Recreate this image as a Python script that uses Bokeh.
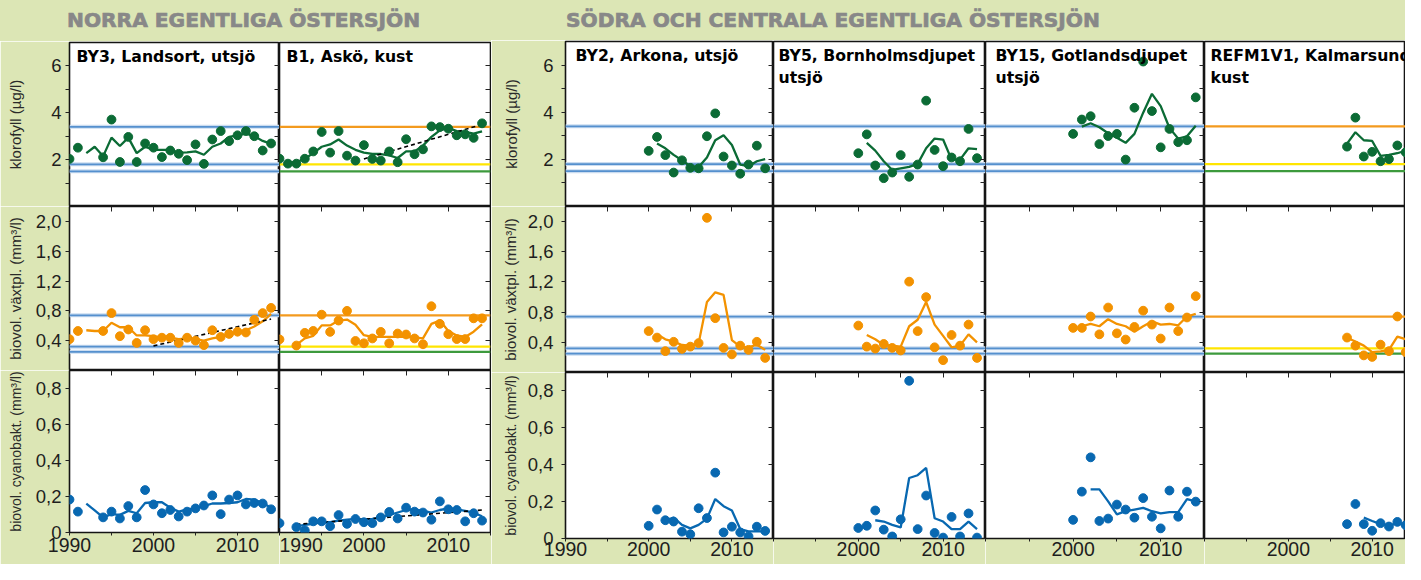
from bokeh.plotting import figure
from bokeh.models import Range1d, FixedTicker, LinearAxis, Div, Span, Label
from bokeh.layouts import row, column
from bokeh.embed import file_html
from bokeh.resources import INLINE

# ------------------------------------------------------------------ data
# --- BY3, Landsort (utsjö)
BY3_YEARS = [1990, 1991, 1994, 1995, 1996, 1997, 1998, 1999, 2000, 2001, 2002, 2003,
             2004, 2005, 2006, 2007, 2008, 2009, 2010, 2011, 2012, 2013, 2014]
BY3_CHL = [2.03, 2.51, 2.10, 3.71, 1.90, 2.97, 1.90, 2.69, 2.51, 2.11, 2.39, 2.25,
           1.98, 2.65, 1.82, 2.86, 3.22, 2.79, 3.04, 3.22, 3.00, 2.39, 2.69]
BY3_PHYTO = [0.42, 0.53, 0.53, 0.77, 0.46, 0.55, 0.37, 0.54, 0.42, 0.44, 0.44, 0.37,
             0.44, 0.40, 0.34, 0.54, 0.45, 0.49, 0.52, 0.51, 0.68, 0.77, 0.84]
BY3_CYANO = [0.183, 0.116, 0.084, 0.116, 0.078, 0.147, 0.084, 0.236, 0.156, 0.107, 0.125, 0.089,
             0.116, 0.134, 0.150, 0.206, 0.102, 0.183, 0.206, 0.156, 0.164, 0.161, 0.129]
BY3_AVG_YEARS = [1992, 1993, 1994, 1995, 1996, 1997, 1998, 1999, 2000, 2001, 2002, 2003,
                 2004, 2005, 2006, 2007, 2008, 2009, 2010, 2011, 2012, 2013, 2014]
BY3_CHL_AVG = [2.28, 2.55, 2.14, 2.94, 2.58, 2.94, 2.28, 2.55, 2.42, 2.42, 2.42, 2.30,
               2.31, 2.35, 2.21, 2.55, 2.69, 2.97, 3.04, 3.11, 3.00, 2.80, 2.67]
BY3_PHYTO_AVG = [0.54, 0.53, 0.53, 0.64, 0.58, 0.58, 0.47, 0.47, 0.46, 0.44, 0.44, 0.42,
                 0.43, 0.42, 0.40, 0.43, 0.45, 0.49, 0.52, 0.54, 0.59, 0.66, 0.76]
BY3_CYANO_AVG = [0.161, 0.123, 0.084, 0.102, 0.098, 0.120, 0.107, 0.164, 0.168, 0.168, 0.138, 0.116,
                 0.129, 0.134, 0.147, 0.161, 0.161, 0.164, 0.168, 0.186, 0.183, 0.164, 0.138]
BY3_PHYTO_TREND_YEARS = [2000, 2014]
BY3_PHYTO_TREND = [0.33, 0.69]

# --- B1, Askö (kust)
B1_CHL_YEARS = [1990, 1991, 1992, 1993, 1994, 1995, 1996, 1997, 1998, 1999, 2000, 2001, 2002,
                2003, 2004, 2005, 2006, 2007, 2008, 2009, 2010, 2011, 2012, 2013, 2014]
B1_CHL = [2.04, 1.83, 1.83, 2.04, 2.35, 3.18, 2.30, 3.22, 2.17, 1.96, 2.62, 2.03, 1.96,
          2.35, 1.89, 2.87, 2.23, 2.44, 3.42, 3.39, 3.32, 3.04, 3.08, 2.93, 3.55]
B1_CHL_AVG_YEARS = [1991, 1992, 1993, 1994, 1995, 1996, 1997, 1998, 1999, 2000, 2001, 2002,
                    2003, 2004, 2005, 2006, 2007, 2008, 2009, 2010, 2011, 2012, 2013, 2014]
B1_CHL_AVG = [1.86, 1.90, 2.04, 2.28, 2.55, 2.65, 2.86, 2.60, 2.42, 2.30, 2.25, 2.24,
              2.18, 2.07, 2.35, 2.35, 2.60, 2.97, 3.25, 3.36, 3.22, 3.18, 3.11, 3.21]
B1_CHL_TREND_YEARS = [2000, 2014]
B1_CHL_TREND = [2.03, 3.50]
B1_YEARS = [1990, 1992, 1993, 1994, 1995, 1996, 1997, 1998, 1999, 2000, 2001, 2002,
            2003, 2004, 2005, 2006, 2007, 2008, 2009, 2010, 2011, 2012, 2013, 2014]
B1_PHYTO = [0.417, 0.335, 0.505, 0.531, 0.749, 0.518, 0.670, 0.800, 0.396, 0.365, 0.430, 0.518,
            0.365, 0.496, 0.483, 0.430, 0.352, 0.862, 0.626, 0.487, 0.422, 0.422, 0.700, 0.700]
B1_CYANO = [0.052, 0.030, 0.012, 0.062, 0.062, 0.035, 0.097, 0.048, 0.075, 0.057, 0.052, 0.084,
            0.114, 0.078, 0.138, 0.116, 0.111, 0.071, 0.173, 0.129, 0.125, 0.062, 0.107, 0.066]
B1_AVG_YEARS = [1992, 1993, 1994, 1995, 1996, 1997, 1998, 1999, 2000, 2001, 2002, 2003,
                2004, 2005, 2006, 2007, 2008, 2009, 2010, 2011, 2012, 2013, 2014]
B1_PHYTO_AVG = [0.343, 0.430, 0.465, 0.605, 0.605, 0.670, 0.683, 0.613, 0.474, 0.452, 0.452, 0.452,
                0.452, 0.452, 0.443, 0.430, 0.626, 0.670, 0.530, 0.470, 0.450, 0.520, 0.620]
B1_CYANO_AVG = [0.034, 0.043, 0.048, 0.057, 0.057, 0.066, 0.071, 0.075, 0.071, 0.075, 0.084, 0.097,
                0.111, 0.125, 0.129, 0.120, 0.111, 0.125, 0.134, 0.129, 0.120, 0.110, 0.090]
B1_CYANO_TREND_YEARS = [1992, 2014]
B1_CYANO_TREND = [0.045, 0.125]

# --- offshore stations in the south (BY2, BY5, BY15)
SOUTH_YEARS = [2000, 2001, 2002, 2003, 2004, 2005, 2006, 2007, 2008, 2009, 2010, 2011, 2012, 2013, 2014]
SOUTH_AVG_YEARS = [2001, 2002, 2003, 2004, 2005, 2006, 2007, 2008, 2009, 2010, 2011, 2012, 2013, 2014]
SOUTH_CYANO_AVG_YEARS = [2002, 2003, 2004, 2005, 2006, 2007, 2008, 2009, 2010, 2011, 2012, 2013, 2014]

BY2_CHL = [2.36, 2.95, 2.18, 1.44, 1.96, 1.64, 1.62, 2.98, 3.95, 2.12, 1.74, 1.39, 1.78, 2.58, 1.62]
BY2_CHL_AVG = [2.67, 2.47, 2.19, 1.96, 1.71, 1.68, 2.08, 2.81, 3.02, 2.61, 1.78, 1.71, 1.92, 2.01]
BY2_PHYTO = [0.549, 0.463, 0.283, 0.407, 0.313, 0.343, 0.390, 2.050, 0.720, 0.326, 0.240, 0.356, 0.300, 0.407, 0.193]
BY2_PHYTO_AVG = [0.506, 0.440, 0.410, 0.365, 0.356, 0.386, 0.934, 1.063, 1.028, 0.429, 0.343, 0.334, 0.369, 0.300]
BY2_CYANO = [0.069, 0.157, 0.099, 0.092, 0.037, 0.023, 0.164, 0.111, 0.357, 0.033, 0.064, 0.033, 0.012, 0.064, 0.041]
BY2_CYANO_AVG = [0.099, 0.113, 0.074, 0.055, 0.074, 0.108, 0.214, 0.175, 0.152, 0.051, 0.039, 0.039, 0.039]

BY5_CHL = [2.26, 3.06, 1.74, 1.20, 1.44, 2.18, 1.26, 1.78, 4.49, 2.40, 1.71, 2.08, 1.92, 3.29, 2.05]
BY5_CHL_AVG = [2.70, 2.37, 1.92, 1.55, 1.62, 1.68, 1.81, 2.47, 2.88, 2.84, 1.99, 1.99, 2.47, 2.43]
BY5_PHYTO = [0.622, 0.343, 0.317, 0.378, 0.326, 0.292, 1.204, 0.549, 0.999, 0.334, 0.163, 0.497, 0.356, 0.635, 0.193]
BY5_PHYTO_AVG = [0.497, 0.440, 0.365, 0.356, 0.343, 0.613, 0.699, 0.934, 0.635, 0.485, 0.334, 0.356, 0.506, 0.400]
BY5_CYANO = [0.057, 0.069, 0.152, 0.048, 0.011, 0.104, 0.855, 0.051, 0.233, 0.030, 0.005, 0.117, 0.011, 0.136, 0.005]
BY5_CYANO_AVG = [0.099, 0.092, 0.074, 0.060, 0.328, 0.343, 0.383, 0.110, 0.092, 0.051, 0.051, 0.092, 0.051]

BY15_CHL = [3.08, 3.69, 3.83, 2.65, 2.99, 3.08, 1.99, 4.19, 6.15, 4.05, 2.51, 3.29, 2.73, 2.81, 4.63]
BY15_CHL_AVG = [3.39, 3.53, 3.36, 3.11, 2.92, 2.70, 3.08, 3.98, 4.78, 4.26, 3.33, 2.88, 2.98, 3.43]
BY15_PHYTO = [0.591, 0.591, 0.742, 0.506, 0.861, 0.519, 0.437, 0.604, 0.819, 0.635, 0.450, 0.861, 0.549, 0.729, 1.012]
BY15_PHYTO_AVG = [0.613, 0.643, 0.613, 0.707, 0.643, 0.613, 0.540, 0.613, 0.677, 0.635, 0.643, 0.626, 0.742, 0.776]
BY15_CYANO = [0.101, 0.254, 0.440, 0.095, 0.108, 0.184, 0.157, 0.113, 0.219, 0.118, 0.055, 0.260, 0.118, 0.254, 0.200]
BY15_CYANO_AVG = [0.266, 0.266, 0.201, 0.131, 0.148, 0.157, 0.166, 0.148, 0.136, 0.143, 0.143, 0.214, 0.201]

# --- REFM1V1, Kalmarsund (kust)
REFM_YEARS = [2007, 2008, 2009, 2010, 2011, 2012, 2013, 2014]
REFM_CHL = [2.54, 3.77, 2.12, 2.32, 1.92, 2.01, 2.59, 2.30]
REFM_CHL_AVG = [2.67, 3.15, 2.81, 2.78, 2.15, 2.19, 2.26, 2.37]
REFM_PHYTO = [0.463, 0.356, 0.227, 0.206, 0.369, 0.283, 0.742, 0.270]
REFM_PHYTO_AVG = [0.460, 0.410, 0.356, 0.270, 0.279, 0.300, 0.476, 0.440]
REFM_CYANO = [0.078, 0.187, 0.078, 0.042, 0.083, 0.065, 0.090, 0.072]
REFM_CYANO_AVG_YEARS = [2009, 2010, 2011, 2012, 2013, 2014]
REFM_CYANO_AVG = [0.113, 0.095, 0.078, 0.072, 0.081, 0.072]

# class boundaries (reference / status lines)
CHL_BOUNDS = [3.4, 1.8, 1.5]
PHYTO_BOUNDS = [0.74, 0.32, 0.25]

STATION_TITLES = {
    "BY3": "BY3, Landsort, utsjö",
    "B1": "B1, Askö, kust",
    "BY2": "BY2, Arkona, utsjö",
    "BY5": "BY5, Bornholmsdjupet\nutsjö",
    "BY15": "BY15, Gotlandsdjupet\nutsjö",
    "REFM1V1": "REFM1V1, Kalmarsund\nkust",
}
GROUP_TITLES = ["NORRA EGENTLIGA ÖSTERSJÖN", "SÖDRA OCH CENTRALA EGENTLIGA ÖSTERSJÖN"]
ROW_LABELS = ["klorofyll (µg/l)", "biovol. växtpl. (mm³/l)", "biovol. cyanobakt. (mm³/l)"]

SERIES = {
    "BY3": [(BY3_YEARS, BY3_CHL, BY3_AVG_YEARS, BY3_CHL_AVG, None),
            (BY3_YEARS, BY3_PHYTO, BY3_AVG_YEARS, BY3_PHYTO_AVG, (BY3_PHYTO_TREND_YEARS, BY3_PHYTO_TREND)),
            (BY3_YEARS, BY3_CYANO, BY3_AVG_YEARS, BY3_CYANO_AVG, None)],
    "B1": [(B1_CHL_YEARS, B1_CHL, B1_CHL_AVG_YEARS, B1_CHL_AVG, (B1_CHL_TREND_YEARS, B1_CHL_TREND)),
           (B1_YEARS, B1_PHYTO, B1_AVG_YEARS, B1_PHYTO_AVG, None),
           (B1_YEARS, B1_CYANO, B1_AVG_YEARS, B1_CYANO_AVG, (B1_CYANO_TREND_YEARS, B1_CYANO_TREND))],
    "BY2": [(SOUTH_YEARS, BY2_CHL, SOUTH_AVG_YEARS, BY2_CHL_AVG, None),
            (SOUTH_YEARS, BY2_PHYTO, SOUTH_AVG_YEARS, BY2_PHYTO_AVG, None),
            (SOUTH_YEARS, BY2_CYANO, SOUTH_CYANO_AVG_YEARS, BY2_CYANO_AVG, None)],
    "BY5": [(SOUTH_YEARS, BY5_CHL, SOUTH_AVG_YEARS, BY5_CHL_AVG, None),
            (SOUTH_YEARS, BY5_PHYTO, SOUTH_AVG_YEARS, BY5_PHYTO_AVG, None),
            (SOUTH_YEARS, BY5_CYANO, SOUTH_CYANO_AVG_YEARS, BY5_CYANO_AVG, None)],
    "BY15": [(SOUTH_YEARS, BY15_CHL, SOUTH_AVG_YEARS, BY15_CHL_AVG, None),
             (SOUTH_YEARS, BY15_PHYTO, SOUTH_AVG_YEARS, BY15_PHYTO_AVG, None),
             (SOUTH_YEARS, BY15_CYANO, SOUTH_CYANO_AVG_YEARS, BY15_CYANO_AVG, None)],
    "REFM1V1": [(REFM_YEARS, REFM_CHL, REFM_YEARS, REFM_CHL_AVG, None),
                (REFM_YEARS, REFM_PHYTO, REFM_YEARS, REFM_PHYTO_AVG, None),
                (REFM_YEARS, REFM_CYANO, REFM_CYANO_AVG_YEARS, REFM_CYANO_AVG, None)],
}
COASTAL = {"B1", "REFM1V1"}

# ------------------------------------------------------------------ style
BG = "#dce6b5"
SERIES_COLORS = ["#0b6b35", "#f39200", "#0868b1"]
LINE_BLUE, HALO_BLUE = "#5590ce", "#cadcf0"
BOUND_COAST = ["#f39a1e", "#ffe500", "#3d9a3d"]
TICK_FONT = "Liberation Sans"
TITLE_FONT = "DejaVu Sans"

ROW_SPECS = [
    dict(ymax=7.0, ticks=[2, 4, 6], minor=[1, 3, 5], fmt="%g", bounds=CHL_BOUNDS, lab_size="15px"),
    dict(ymax=2.2, ticks=[0.4, 0.8, 1.2, 1.6, 2.0], minor=[], fmt="%.1f", bounds=PHYTO_BOUNDS, lab_size="15px"),
    dict(ymax=0.9, ticks=[0, 0.2, 0.4, 0.6, 0.8], minor=[], fmt="%g", bounds=None, lab_size="14px"),
]

# geometry (pixels) - the whole page is laid out at 1405 x 564
FRAME_W = {"BY3": 210, "B1": 211, "BY2": 208, "BY5": 212, "BY15": 219, "REFM1V1": 201}
FULL_W = 209.6  # width of a complete 1990-2015 panel (REFM is cut at the page edge)
BORDER_L = {"BY3": 69, "B1": 0, "BY2": 74, "BY5": 0, "BY15": 0, "REFM1V1": 0}
BORDER_R = {"BY3": 0, "B1": 1, "BY2": 0, "BY5": 0, "BY15": 0, "REFM1V1": 0}
ROW_H = {0: [164, 164, 162], 1: [165, 166, 166]}
BOTTOM_H = {0: 32, 1: 26}
TITLE_H = {0: 41, 1: 40}
TITLE_LEFT = {0: 67, 1: 75}
AXLAB_STANDOFF = {0: [24, 9, 9], 1: [20, 6, 6]}
TICK_STANDOFF = {0: 4, 1: 8}
TITLE_DX = {"BY3": 7, "B1": 7, "BY2": 10, "BY5": 5, "BY15": 10, "REFM1V1": 6}


def ylabels(spec):
    return {t: (spec["fmt"] % t).replace(".", ",") for t in spec["ticks"]}


def make_panel(st, r, g):
    spec = ROW_SPECS[r]
    fw = FRAME_W[st]
    fh = ROW_H[g][r]
    top = 1 if r == 0 else 0
    bottom = BOTTOM_H[g] if r == 2 else 0
    xmax = 2015 if st != "REFM1V1" else 1990 + 25 * fw / FULL_W
    p = figure(width=BORDER_L[st] + fw + BORDER_R[st], height=fh + top + bottom,
               x_range=Range1d(1990, xmax), y_range=Range1d(0, spec["ymax"]),
               x_axis_location=None, y_axis_location=None,
               min_border_left=BORDER_L[st], min_border_right=BORDER_R[st],
               min_border_top=top, min_border_bottom=bottom,
               background_fill_color="white", border_fill_color=BG,
               outline_line_color="#141414", outline_line_width=1.6,
               output_backend="svg", toolbar_location=None)
    p.grid.visible = False

    yt = FixedTicker(ticks=spec["ticks"], minor_ticks=spec["minor"])
    # left axis with labels (first column of each group)
    if st in ("BY3", "BY2"):
        ax = LinearAxis(ticker=yt, axis_label=ROW_LABELS[r],
                        major_label_overrides=ylabels(spec))
        ax.axis_line_color = None
        ax.major_tick_out = 4
        ax.major_tick_in = 0
        ax.minor_tick_out = 4
        ax.minor_tick_in = 0
        ax.major_tick_line_color = "#222222"
        ax.minor_tick_line_color = "#222222"
        ax.major_label_standoff = TICK_STANDOFF[g]
        ax.major_label_text_font = TICK_FONT
        ax.major_label_text_font_size = "18.5px"
        ax.major_label_text_color = "#1e1e1e"
        ax.axis_label_text_font = TICK_FONT
        ax.axis_label_text_font_style = "normal"
        ax.axis_label_text_font_size = spec["lab_size"]
        ax.axis_label_text_color = "#2a2a2a"
        ax.axis_label_standoff = AXLAB_STANDOFF[g][r]
        p.add_layout(ax, "left")
    # inward ticks on the right edge of each panel
    if st != "REFM1V1":
        rax = LinearAxis(ticker=FixedTicker(ticks=spec["ticks"], minor_ticks=spec["minor"]),
                         fixed_location=xmax)
        rax.axis_line_color = None
        rax.major_tick_in = 5
        rax.major_tick_out = 0
        rax.minor_tick_in = 5
        rax.minor_tick_out = 0
        rax.major_tick_line_color = "#222222"
        rax.minor_tick_line_color = "#222222"
        rax.major_label_text_font_size = "0px"
        rax.major_label_text_alpha = 0
        p.add_layout(rax, "right")
    # inward ticks on the top edge (rows 2 and 3)
    if r > 0:
        tax = LinearAxis(ticker=FixedTicker(ticks=[1995, 2000, 2005, 2010], minor_ticks=[]),
                         fixed_location=spec["ymax"])
        tax.axis_line_color = None
        tax.major_tick_in = 5
        tax.major_tick_out = 0
        tax.major_tick_line_color = "#222222"
        tax.major_label_text_font_size = "0px"
        tax.major_label_text_alpha = 0
        p.add_layout(tax, "above")
    # bottom axis with year labels
    if r == 2:
        labelled = [1990, 2000, 2010] if st in ("BY3", "B1", "BY2") else [2000, 2010]
        minors = [y for y in [1990, 1995, 2005, 2015] if y not in labelled and y <= xmax]
        bax = LinearAxis(ticker=FixedTicker(ticks=labelled, minor_ticks=minors))
        bax.axis_line_color = None
        bax.major_tick_out = 3
        bax.major_tick_in = 0
        bax.minor_tick_out = 3
        bax.minor_tick_in = 0
        bax.major_tick_line_color = "#222222"
        bax.minor_tick_line_color = "#222222"
        bax.major_label_standoff = 0 if g == 1 else 2
        bax.major_label_text_font = TICK_FONT
        bax.major_label_text_font_size = "19.5px"
        bax.major_label_text_color = "#1e1e1e"
        p.add_layout(bax, "below")

    # class-boundary lines
    if spec["bounds"] is not None:
        for i, b in enumerate(spec["bounds"]):
            if st in COASTAL:
                p.add_layout(Span(location=b, dimension="width", line_color=BOUND_COAST[i],
                                  line_width=2.2, level="underlay"))
            else:
                p.add_layout(Span(location=b, dimension="width", line_color=HALO_BLUE,
                                  line_width=4.0, level="underlay"))
                p.add_layout(Span(location=b, dimension="width", line_color=LINE_BLUE,
                                  line_width=1.8, level="underlay"))

    yrs, vals, ayrs, avals, trend = SERIES[st][r]
    col = SERIES_COLORS[r]
    p.line(ayrs, avals, line_color=col, line_width=2.3)
    if trend is not None:
        p.line(trend[0], trend[1], line_color="black", line_width=1.6, line_dash="4 3")
    p.scatter(yrs, vals, size=8.8, fill_color=col, line_color=col)

    if r == 0:
        p.add_layout(Label(x=1990, y=spec["ymax"], x_offset=TITLE_DX[st], y_offset=-4,
                           text=STATION_TITLES[st], text_font=TITLE_FONT,
                           text_font_style="bold", text_font_size="15.7px",
                           text_baseline="top", text_align="left", text_color="black",
                           text_line_height=1.2))
    return p


def title_div(text, width, height, left):
    html = ('<div style="position:absolute;left:%dpx;top:10px;font-family:\'DejaVu Sans\';'
            'font-weight:bold;font-size:20.2px;line-height:21px;color:#888888;'
            '-webkit-text-stroke:0.7px #888888;white-space:nowrap;">%s</div>' % (left, text))
    return Div(text=html, width=width, height=height, margin=0,
               styles={"background-color": BG, "overflow": "hidden"})


groups = [["BY3", "B1"], ["BY2", "BY5", "BY15", "REFM1V1"]]
cols = []
for g, stations in enumerate(groups):
    gw = sum(BORDER_L[s] + FRAME_W[s] + BORDER_R[s] for s in stations)
    rows_ = [title_div(GROUP_TITLES[g], gw, TITLE_H[g], TITLE_LEFT[g])]
    for r in range(3):
        rows_.append(row(*[make_panel(s, r, g) for s in stations], spacing=0))
    cols.append(column(*rows_, spacing=0))

layout = row(*cols, spacing=0)
open("out.html", "w").write(file_html(layout, INLINE))
